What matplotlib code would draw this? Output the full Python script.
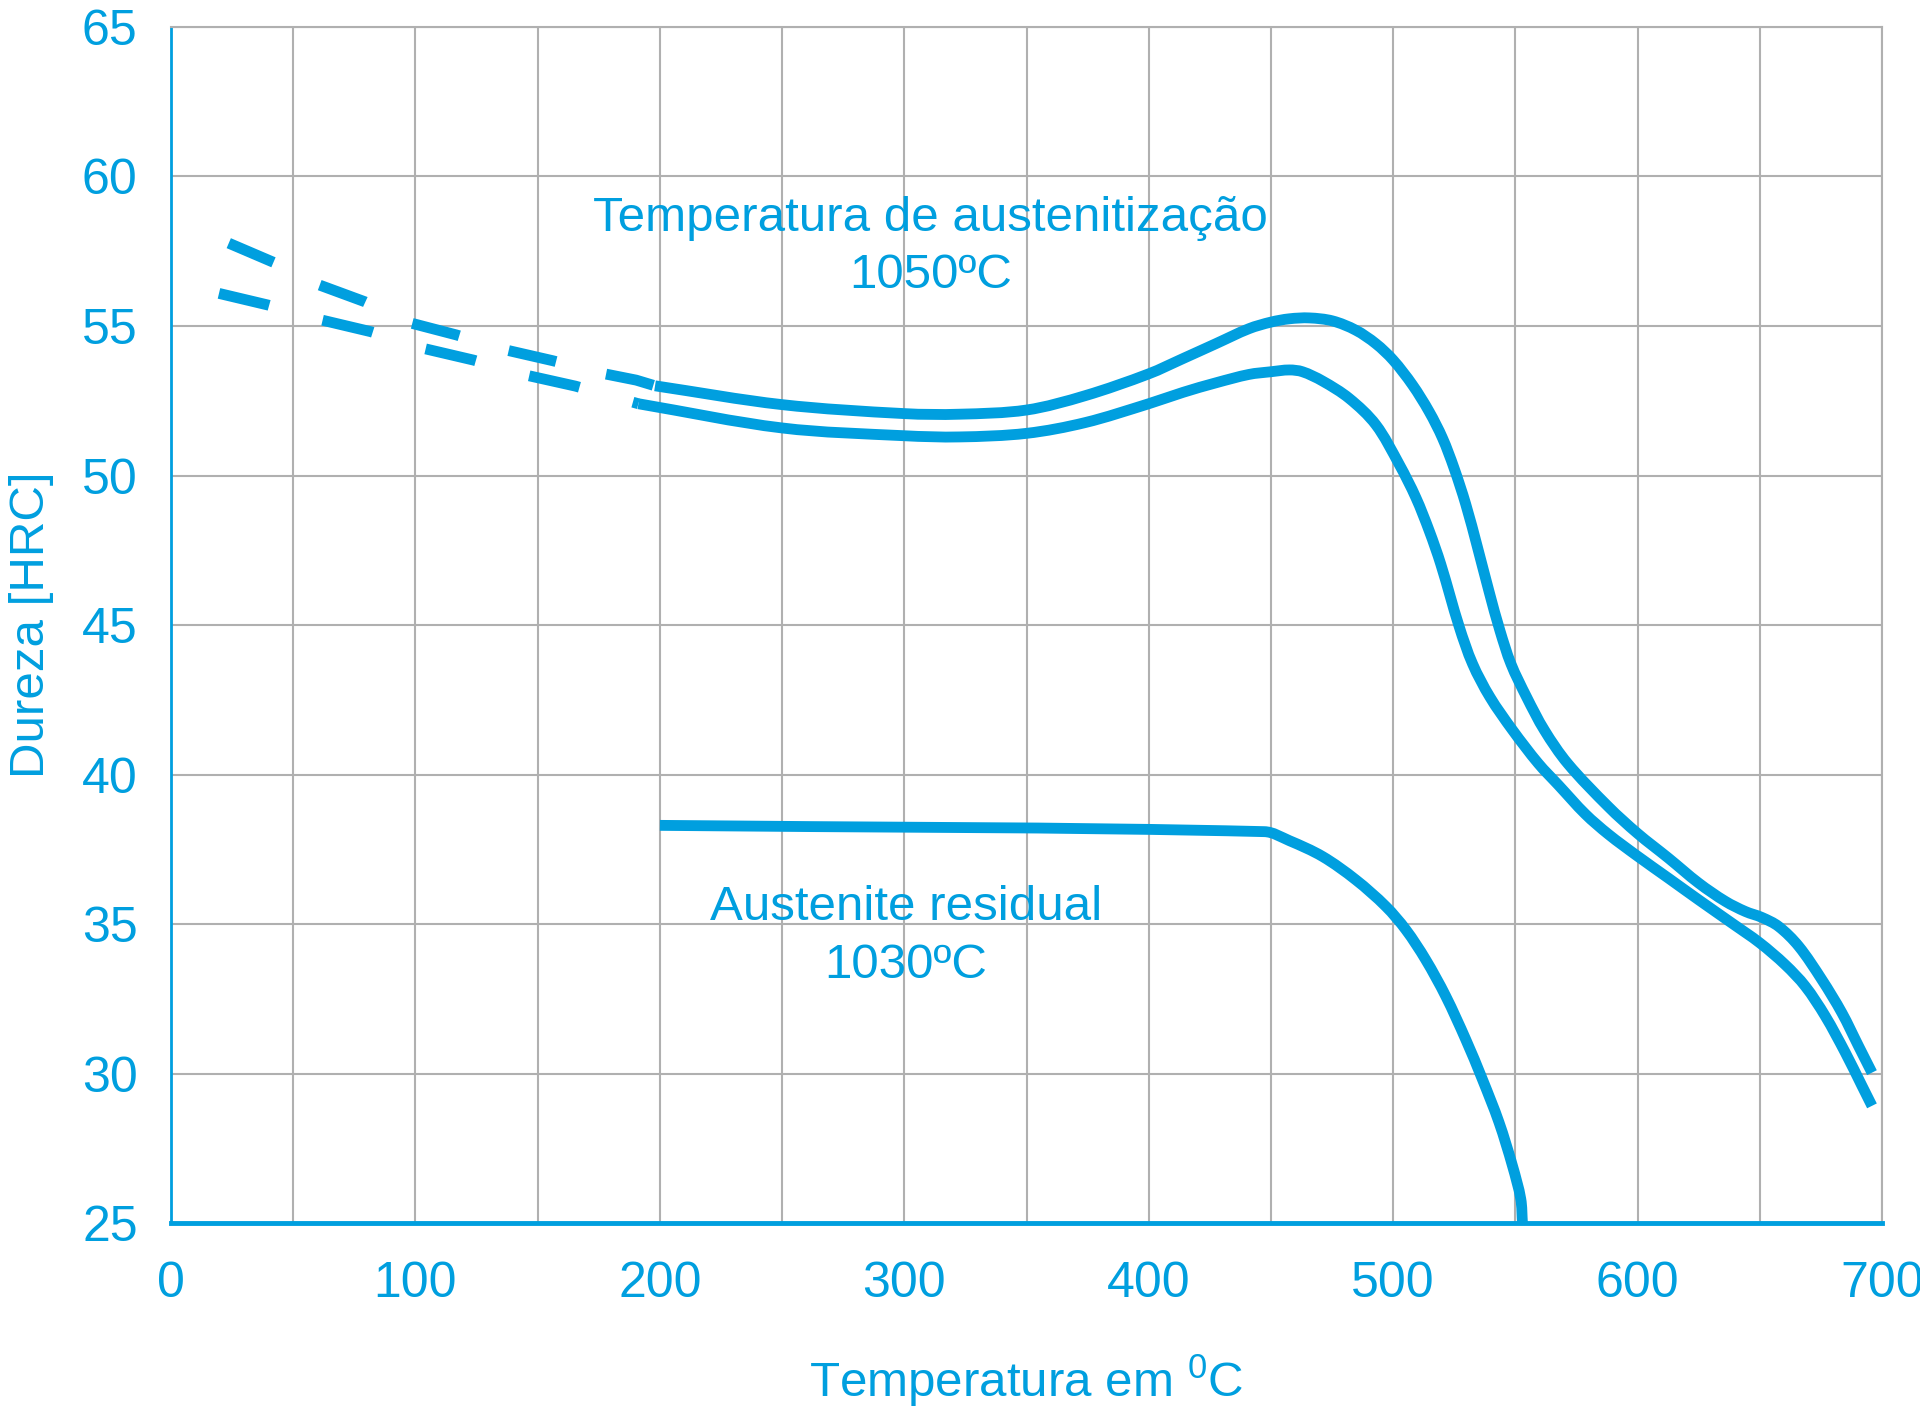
import matplotlib
matplotlib.use('Agg')
import matplotlib.pyplot as plt
from matplotlib.ticker import MultipleLocator
from matplotlib.path import Path
from matplotlib.patches import PathPatch
import numpy as np

plt.rcParams['font.family'] = ['Liberation Sans', 'DejaVu Sans']
plt.rcParams['mathtext.fontset'] = 'custom'
plt.rcParams['mathtext.rm'] = 'Liberation Sans'
plt.rcParams['mathtext.default'] = 'regular'

BLUE = '#009fdf'
GRID = '#b0b0b0'

# 1050 C - upper curve (dashed part, then solid part)
upper_dash_x = [23.6, 41.9, 60.7, 79.3, 98.5, 116.8, 136.9, 156.1, 176.2, 190.3, 198]
upper_dash_y = [57.77, 57.13, 56.37, 55.81, 55.09, 54.70, 54.20, 53.84, 53.42, 53.19, 53.0]
upper_x = [198, 250, 300, 322.5, 350, 374, 400, 414, 427.5, 441, 450, 457.5, 465.7,
           475.2, 484.7, 492.9, 500, 507.9, 514.7, 520.2, 524.9, 529.7, 534.5, 539.3,
           543.7, 548.2, 554.6, 561.9, 571.4, 588.1, 600, 612.7, 625, 635.9,
           644.1, 650.9, 657.7, 665.9, 675.4, 683.6, 690.4, 695.9]
upper_y = [53.0, 52.37, 52.07, 52.05, 52.19, 52.67, 53.4, 53.91, 54.41, 54.91, 55.13,
           55.24, 55.27, 55.17, 54.86, 54.41, 53.86, 53.03, 52.14, 51.25, 50.25, 49.04,
           47.60, 46.10, 44.81, 43.70, 42.59, 41.48, 40.37, 38.92, 38.03, 37.20,
           36.37, 35.76, 35.42, 35.22, 34.92, 34.26, 33.14, 32.03, 30.92, 30.03]

# 1050 C - lower curve
lower_dash_x = [19.6, 39.7, 61.6, 81.7, 103.3, 123.7, 145.1, 165.4, 191.2]
lower_dash_y = [56.09, 55.70, 55.20, 54.81, 54.25, 53.86, 53.36, 52.99, 52.40]
lower_x = [191.2, 250, 300, 322.5, 350, 374, 400, 414, 427.5, 441, 450, 457.5, 462.9,
           471.1, 482, 492.9, 502.5, 509.3, 514.8, 519.5, 527, 532.5, 539.6,
           548.9, 559.4, 567.7, 578.6, 588.1, 600, 612.7, 625, 638.6, 650, 660.4,
           668.6, 676.8, 685, 691.8, 695.9]
lower_y = [52.40, 51.59, 51.33, 51.29, 51.41, 51.77, 52.40, 52.78, 53.10, 53.38, 53.47,
           53.53, 53.47, 53.16, 52.58, 51.70, 50.37, 49.26, 48.14, 47.03, 44.95,
           43.70, 42.59, 41.48, 40.37, 39.64, 38.68, 38.00, 37.27, 36.53, 35.81, 35.03,
           34.37, 33.64, 32.92, 31.92, 30.70, 29.59, 28.92]

# Austenite residual 1030 C
resid_x = [200, 447.3, 457.5, 471.1, 484.7, 497, 505.2, 513.3, 521.5, 529.7,
           536.5, 543.3, 548.8, 552.2, 552.9]
resid_y = [38.30, 38.09, 37.79, 37.26, 36.48, 35.59, 34.81, 33.81, 32.59, 31.14,
           29.81, 28.37, 26.92, 25.81, 25.0]

x_ticks = [0, 100, 200, 300, 400, 500, 600, 700]
y_ticks = [25, 30, 35, 40, 45, 50, 55, 60, 65]


def smooth_path(xs, ys):
    # hermite curve through the points, chord-length parameter (in ~pixel units)
    p = np.column_stack([xs, ys]).astype(float)
    q = p * np.array([2.444, 29.9])
    dt = np.hypot(*np.diff(q, axis=0).T)
    n = len(p)
    m = np.zeros_like(p)
    m[0] = (p[1] - p[0]) / dt[0]
    m[-1] = (p[-1] - p[-2]) / dt[-1]
    for i in range(1, n - 1):
        m[i] = (p[i + 1] - p[i - 1]) / (dt[i - 1] + dt[i])
    verts = [p[0]]
    codes = [Path.MOVETO]
    for i in range(n - 1):
        verts += [p[i] + m[i] * dt[i] / 3, p[i + 1] - m[i + 1] * dt[i] / 3, p[i + 1]]
        codes += [Path.CURVE4] * 3
    return Path(verts, codes)


fig = plt.figure(figsize=(19.2, 14.12), dpi=100)
ax = fig.add_axes([0.0891, 0.1338, 0.8911, 0.8471])

lw = 7.8
ax.plot(upper_dash_x, upper_dash_y, color=BLUE, lw=lw, linestyle=(0, (4.49, 4.76)),
        dash_capstyle='butt', zorder=3)
ax.plot(lower_dash_x, lower_dash_y, color=BLUE, lw=lw, linestyle=(0, (4.76, 5.12)),
        dash_capstyle='butt', zorder=3)
for xs, ys in [(upper_x, upper_y), (lower_x, lower_y), (resid_x, resid_y)]:
    ax.add_patch(PathPatch(smooth_path(xs, ys), fill=False, edgecolor=BLUE, lw=lw,
                           capstyle='butt', joinstyle='round', zorder=3))

ax.set_xlim(0, 700)
ax.set_ylim(25, 65)
ax.set_xticks(x_ticks)
ax.set_yticks(y_ticks)
ax.xaxis.set_minor_locator(MultipleLocator(50))
ax.grid(True, which='both', color=GRID, lw=1.5, zorder=0)
ax.set_axisbelow(True)
ax.tick_params(which='both', length=0, labelsize=36, labelcolor=BLUE)
ax.tick_params(axis='x', pad=27)
ax.tick_params(axis='y', pad=24)

for s in ['top', 'right']:
    ax.spines[s].set_color(GRID)
    ax.spines[s].set_linewidth(1.5)
ax.spines['left'].set_color(BLUE)
ax.spines['left'].set_linewidth(2)
ax.spines['bottom'].set_color(BLUE)
ax.spines['bottom'].set_linewidth(3.5)

ax.set_xlabel(r'Temperatura em $^{0}$C', fontsize=35.5, color=BLUE, labelpad=33)
ax.set_ylabel('Dureza [HRC]', fontsize=35.5, color=BLUE, labelpad=20)

ax.text(310.7, 58.6, 'Temperatura de austenitização', fontsize=35.5, color=BLUE,
        ha='center', va='center')
ax.text(310.7, 56.7, '1050ºC', fontsize=35.5, color=BLUE, ha='center', va='center')
ax.text(300.6, 35.57, 'Austenite residual', fontsize=35.5, color=BLUE,
        ha='center', va='center')
ax.text(300.6, 33.6, '1030ºC', fontsize=35.5, color=BLUE, ha='center', va='center')

fig.savefig('out.png', dpi=100)
